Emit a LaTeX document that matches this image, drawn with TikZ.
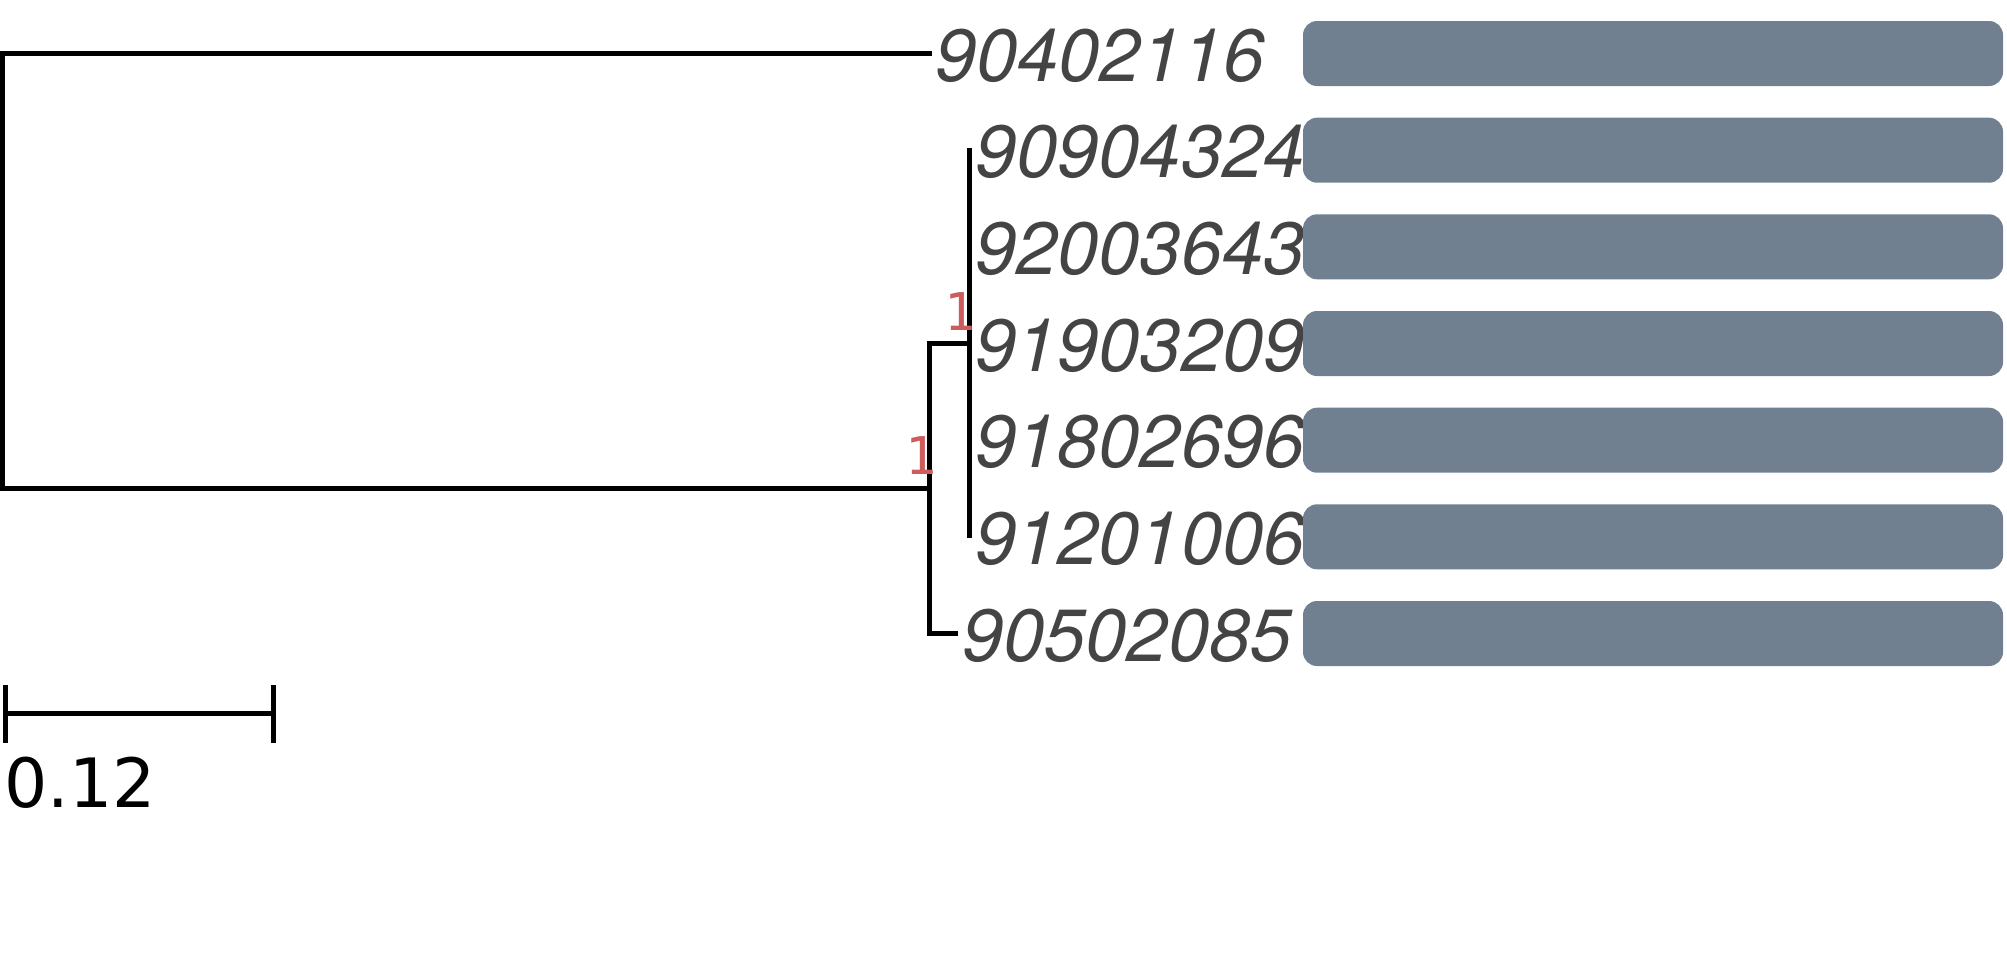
\documentclass[tikz,border=0pt]{standalone}
\usepackage{fontspec}
\newfontfamily\heros{TeX Gyre Heros}
\newfontfamily\djsans{DejaVu Sans}
\newfontfamily\djmono{DejaVu Sans Mono}
\definecolor{barcol}{RGB}{112,128,144}
\definecolor{labcol}{RGB}{68,68,68}
\definecolor{supcol}{RGB}{205,92,92}
\tikzset{
  branch/.style={line width=2.5pt, line cap=butt, line join=miter},
  leaflab/.style={anchor=base west, inner sep=0pt, text=labcol, font=\heros\itshape\fontsize{37}{40}\selectfont},
  barbox/.style={fill=barcol, draw=none, rounded corners=7pt, minimum width=350pt, minimum height=32.5pt, inner sep=0pt},
  support/.style={anchor=base east, inner sep=0pt, text=supcol, font=\djmono\fontsize{26}{28}\selectfont},
  scalelab/.style={anchor=base west, inner sep=0pt, font=\djsans\fontsize{34}{36}\selectfont}
}
\begin{document}
\begin{tikzpicture}[x=0.5pt, y=-0.5pt]
\useasboundingbox (0,0) rectangle (2007,955);
% tree coordinates
\coordinate (rootTop) at (2.5,53.5);
\coordinate (rootBot) at (2.5,488);
\coordinate (nA) at (929,488);
\coordinate (nB) at (969,343.5);
\coordinate (nBtop) at (969,148);
\coordinate (nBbot) at (969,538);
\coordinate (l1) at (932,53.5);
\coordinate (l7) at (958,633.5);
% branches
\draw[branch] (l1) -- (rootTop) -- (rootBot) -- (nA);
\draw[branch] (nB) -- (nB -| nA) -- (l7 -| nA) -- (l7);
\draw[branch] (nBtop) -- (nBbot);
% support values
\node[support] (s1) at (976,330) {1};
\node[support] (s2) at (937,474) {1};
% leaf labels
\node[leaflab] (lab1) at (935,81) {90402116};
\node[leaflab] (lab2) at (975,177.7) {90904324};
\node[leaflab] (lab3) at (975,274.3) {92003643};
\node[leaflab] (lab4) at (975,371) {91903209};
\node[leaflab] (lab5) at (975,467.7) {91802696};
\node[leaflab] (lab6) at (975,564.3) {91201006};
\node[leaflab] (lab7) at (962,661) {90502085};
% bars
\node[barbox] (bar1) at (1653,53.5) {};
\node[barbox] (bar2) at (1653,150.2) {};
\node[barbox] (bar3) at (1653,246.8) {};
\node[barbox] (bar4) at (1653,343.5) {};
\node[barbox] (bar5) at (1653,440.2) {};
\node[barbox] (bar6) at (1653,536.8) {};
\node[barbox] (bar7) at (1653,633.5) {};
% scale bar
\coordinate (sL) at (5,713);
\coordinate (sR) at (273,713);
\draw[branch] (sL) -- (sR);
\draw[branch] ([yshift=14pt]sL) -- ([yshift=-15pt]sL);
\draw[branch] ([yshift=14pt]sR) -- ([yshift=-15pt]sR);
\node[scalelab] (scale) at (4,807) {0.12};
\end{tikzpicture}
\end{document}
